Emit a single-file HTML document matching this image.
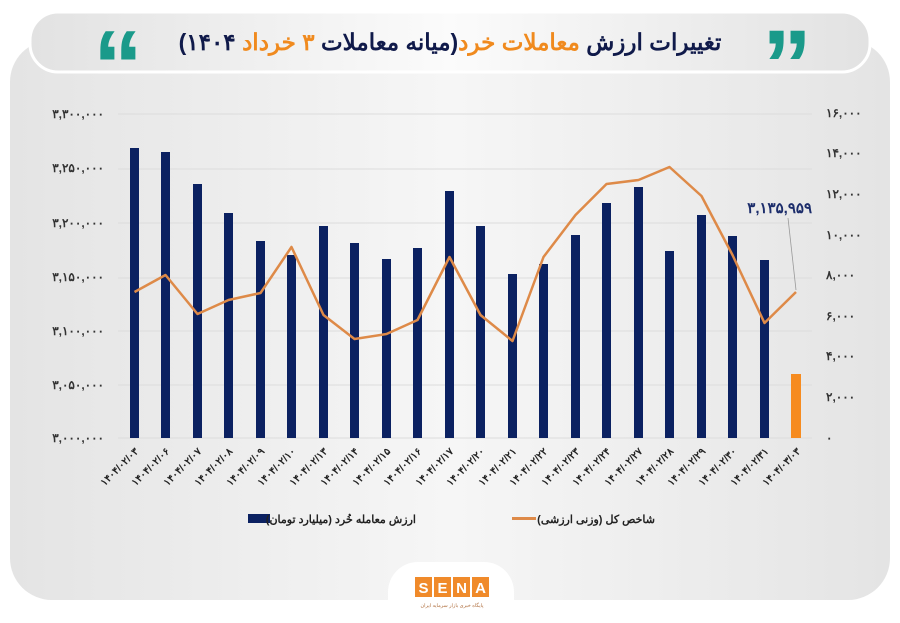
<!DOCTYPE html>
<html><head><meta charset="utf-8"><style>
html,body{margin:0;padding:0;background:#fff;}
svg{display:block;}
text{font-family:"Liberation Sans","Noto Sans CJK SC",sans-serif;}
</style></head><body>
<svg width="900" height="623" viewBox="0 0 900 623" xmlns="http://www.w3.org/2000/svg">
<defs>
<linearGradient id="bg" x1="0" y1="0" x2="1" y2="0">
<stop offset="0" stop-color="#e4e4e4"/><stop offset="0.5" stop-color="#f6f6f6"/><stop offset="1" stop-color="#e4e4e4"/>
</linearGradient>
<linearGradient id="tb" x1="0" y1="0" x2="1" y2="0">
<stop offset="0" stop-color="#e2e2e2"/><stop offset="0.5" stop-color="#fbfbfb"/><stop offset="1" stop-color="#e2e2e2"/>
</linearGradient>
</defs>
<rect width="900" height="623" fill="#fff"/>
<rect x="10" y="40" width="880" height="560" rx="42" fill="url(#bg)"/>
<rect x="30" y="12" width="840" height="60" rx="28" fill="url(#tb)" stroke="#fff" stroke-width="3"/>
<text x="93" y="100" font-size="100" font-weight="bold" fill="#1a9a8a" font-family="Liberation Serif,serif">“</text>
<text x="762" y="100" font-size="100" font-weight="bold" fill="#1a9a8a" font-family="Liberation Serif,serif">”</text>
<text x="450" y="50" text-anchor="middle" font-size="23" font-weight="bold" fill="#101a4a" direction="rtl" font-family="Liberation Sans,'Noto Sans CJK SC',sans-serif">تغییرات ارزش <tspan fill="#f08a1e">معاملات خرد</tspan>(میانه معاملات <tspan fill="#f08a1e">۳ خرداد</tspan> ۱۴۰۴)</text>
<g stroke="#dcdcdc" stroke-width="1">
<line x1="118" y1="114" x2="812" y2="114"/><line x1="118" y1="169" x2="812" y2="169"/>
<line x1="118" y1="223" x2="812" y2="223"/><line x1="118" y1="278" x2="812" y2="278"/>
<line x1="118" y1="331" x2="812" y2="331"/><line x1="118" y1="385" x2="812" y2="385"/>
<line x1="118" y1="438" x2="812" y2="438"/>
</g>
<g font-size="12" fill="#333" text-anchor="end" font-weight="bold">
<text x="104" y="118">۳,۳۰۰,۰۰۰</text><text x="104" y="172">۳,۲۵۰,۰۰۰</text>
<text x="104" y="227">۳,۲۰۰,۰۰۰</text><text x="104" y="281">۳,۱۵۰,۰۰۰</text>
<text x="104" y="335">۳,۱۰۰,۰۰۰</text><text x="104" y="389">۳,۰۵۰,۰۰۰</text>
<text x="104" y="442">۳,۰۰۰,۰۰۰</text>
</g>
<g font-size="12" fill="#333" text-anchor="start" font-weight="bold">
<text x="826" y="117">۱۶,۰۰۰</text><text x="826" y="157">۱۴,۰۰۰</text>
<text x="826" y="198">۱۲,۰۰۰</text><text x="826" y="239">۱۰,۰۰۰</text>
<text x="826" y="279">۸,۰۰۰</text><text x="826" y="320">۶,۰۰۰</text>
<text x="826" y="360">۴,۰۰۰</text><text x="826" y="401">۲,۰۰۰</text>
<text x="826" y="442">۰</text>
</g>
<g fill="#0b2161">
<rect x="130" y="148" width="9" height="290"/><rect x="161" y="152" width="9" height="286"/>
<rect x="193" y="184" width="9" height="254"/><rect x="224" y="213" width="9" height="225"/>
<rect x="256" y="241" width="9" height="197"/><rect x="287" y="255" width="9" height="183"/>
<rect x="319" y="226" width="9" height="212"/><rect x="350" y="243" width="9" height="195"/>
<rect x="382" y="259" width="9" height="179"/><rect x="413" y="248" width="9" height="190"/>
<rect x="445" y="191" width="9" height="247"/><rect x="476" y="226" width="9" height="212"/>
<rect x="508" y="274" width="9" height="164"/><rect x="539" y="264" width="9" height="174"/>
<rect x="571" y="235" width="9" height="203"/><rect x="602" y="203" width="9" height="235"/>
<rect x="634" y="187" width="9" height="251"/><rect x="665" y="251" width="9" height="187"/>
<rect x="697" y="215" width="9" height="223"/><rect x="728" y="236" width="9" height="202"/>
<rect x="760" y="260" width="9" height="178"/>
</g>
<rect x="791" y="374" width="10" height="64" fill="#f68b1f"/>
<polyline fill="none" stroke="#de8a48" stroke-width="2.5" stroke-linejoin="round" points="134.5,292 165.5,275 197.5,314 228.5,300 260.5,293 291.5,247 323.5,315 354.5,339 386.5,334 417.5,320 449.5,257 480.5,315 512.5,341 543.5,257 575.5,215 606.5,184 638.5,180 669.5,167 701.5,196 732.5,255 764.5,323 796,292"/>
<line x1="788" y1="218" x2="796" y2="290" stroke="#999" stroke-width="0.8"/>
<text x="812" y="213" text-anchor="end" font-size="15" font-weight="bold" fill="#1c2d6b">۳,۱۳۵,۹۵۹</text>
<g font-size="10" fill="#222" font-weight="bold" text-anchor="end">
<text transform="translate(139,452) rotate(-45)">۱۴۰۴/۰۲/۰۳</text>
<text transform="translate(170,452) rotate(-45)">۱۴۰۴/۰۲/۰۶</text>
<text transform="translate(202,452) rotate(-45)">۱۴۰۴/۰۲/۰۷</text>
<text transform="translate(233,452) rotate(-45)">۱۴۰۴/۰۲/۰۸</text>
<text transform="translate(265,452) rotate(-45)">۱۴۰۴/۰۲/۰۹</text>
<text transform="translate(296,452) rotate(-45)">۱۴۰۴/۰۲/۱۰</text>
<text transform="translate(328,452) rotate(-45)">۱۴۰۴/۰۲/۱۳</text>
<text transform="translate(359,452) rotate(-45)">۱۴۰۴/۰۲/۱۴</text>
<text transform="translate(391,452) rotate(-45)">۱۴۰۴/۰۲/۱۵</text>
<text transform="translate(422,452) rotate(-45)">۱۴۰۴/۰۲/۱۶</text>
<text transform="translate(454,452) rotate(-45)">۱۴۰۴/۰۲/۱۷</text>
<text transform="translate(485,452) rotate(-45)">۱۴۰۴/۰۲/۲۰</text>
<text transform="translate(517,452) rotate(-45)">۱۴۰۴/۰۲/۲۱</text>
<text transform="translate(548,452) rotate(-45)">۱۴۰۴/۰۲/۲۲</text>
<text transform="translate(580,452) rotate(-45)">۱۴۰۴/۰۲/۲۳</text>
<text transform="translate(611,452) rotate(-45)">۱۴۰۴/۰۲/۲۴</text>
<text transform="translate(643,452) rotate(-45)">۱۴۰۴/۰۲/۲۷</text>
<text transform="translate(674,452) rotate(-45)">۱۴۰۴/۰۲/۲۸</text>
<text transform="translate(706,452) rotate(-45)">۱۴۰۴/۰۲/۲۹</text>
<text transform="translate(737,452) rotate(-45)">۱۴۰۴/۰۲/۳۰</text>
<text transform="translate(769,452) rotate(-45)">۱۴۰۴/۰۲/۳۱</text>
<text transform="translate(801,452) rotate(-45)">۱۴۰۴/۰۳/۰۳</text>
</g>
<rect x="248" y="514" width="22" height="9" fill="#0b2161"/>
<text x="416" y="523" text-anchor="start" font-size="11" font-weight="bold" fill="#222" direction="rtl">ارزش معامله خُرد (میلیارد تومان)</text>
<rect x="512" y="517" width="24" height="3" fill="#de8a48"/>
<text x="655" y="523" text-anchor="start" font-size="11" font-weight="bold" fill="#222" direction="rtl">شاخص کل (وزنی ارزشی)</text>
<rect x="388" y="562" width="126" height="70" rx="30" fill="#fff"/>
<g fill="#f08a2a">
<rect x="415" y="577" width="17" height="20"/><rect x="434" y="577" width="17" height="20"/>
<rect x="453" y="577" width="17" height="20"/><rect x="472" y="577" width="17" height="20"/>
</g>
<g fill="#fff" font-size="15" font-weight="bold" text-anchor="middle">
<text x="423.5" y="593">S</text><text x="442.5" y="593">E</text><text x="461.5" y="593">N</text><text x="480.5" y="593">A</text>
</g>
<text x="452" y="607" text-anchor="middle" font-size="5" fill="#b07040">پایگاه خبری بازار سرمایه ایران</text>
</svg>
</body></html>
